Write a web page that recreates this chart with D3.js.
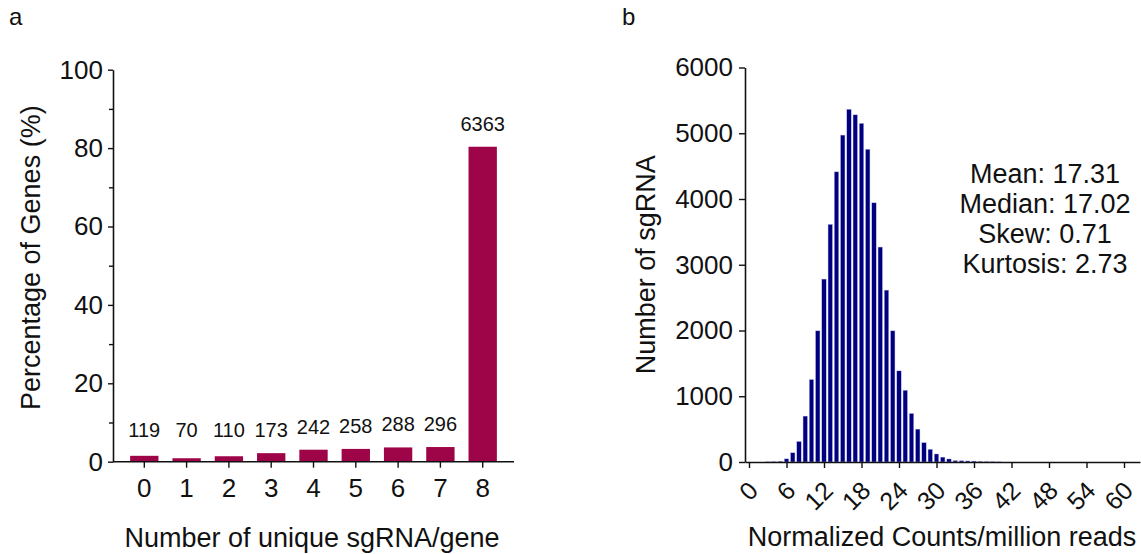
<!DOCTYPE html>
<html>
<head>
<meta charset="utf-8">
<script src="https://cdn.jsdelivr.net/npm/d3@7"></script>
<style>
  html, body { margin: 0; padding: 0; background: #fff; }
  svg { display: block; font-family: "Liberation Sans", Arial, sans-serif; }
</style>
</head>
<body>
<svg id="chart" width="1141" height="554"></svg>
<script>
// ---- Panel a data ----
const geneCategories = ["0", "1", "2", "3", "4", "5", "6", "7", "8"];
const geneCounts = [119, 70, 110, 173, 242, 258, 288, 296, 6363];
const genePercent = [1.50, 0.88, 1.39, 2.18, 3.06, 3.26, 3.64, 3.74, 80.35];
const geneYTicks = [0, 20, 40, 60, 80, 100];
const geneYMinorTicks = [10, 30, 50, 70, 90];

// ---- Panel b data ----
const histBins = [3, 4, 5, 6, 7, 8, 9, 10, 11, 12, 13, 14, 15, 16, 17, 18, 19, 20, 21,
  22, 23, 24, 25, 26, 27, 28, 29, 30, 31, 32, 33, 34, 35, 36, 37, 38, 39, 40];
const histCounts = [3, 5, 12, 48, 140, 312, 698, 1254, 1995, 2782, 3614, 4413, 4972, 5364,
  5280, 5150, 4756, 3942, 3269, 2614, 1995, 1386, 1091, 738, 500, 294, 193, 122, 74, 46,
  22, 20, 16, 14, 10, 6, 4, 2];
const histXTicks = [0, 6, 12, 18, 24, 30, 36, 42, 48, 54, 60];
const histYTicks = [0, 1000, 2000, 3000, 4000, 5000, 6000];
const statsLines = ["Mean: 17.31", "Median: 17.02", "Skew: 0.71", "Kurtosis: 2.73"];

const svg = d3.select("#chart");
const ink = "#111";

function styleAxis(g, fs) {
  g.selectAll("path.domain").attr("stroke", ink).attr("stroke-width", 1.6);
  g.selectAll(".tick line").attr("stroke", ink).attr("stroke-width", 1.4);
  g.selectAll(".tick text").attr("fill", ink).attr("font-size", fs)
    .attr("font-family", "Liberation Sans, Arial, sans-serif");
}

// ================= Panel a =================
const xA = d3.scaleBand().domain(geneCategories).range([113, 514])
  .paddingInner(0.33).paddingOuter(0.405);
const yA = d3.scaleLinear().domain([0, 100]).range([461.7, 69.7]);

svg.append("text").attr("x", 9).attr("y", 25).attr("font-size", 24).attr("fill", ink).text("a");

const gA = svg.append("g");
gA.selectAll("rect.bar").data(genePercent).enter().append("rect")
  .attr("class", "bar")
  .attr("x", (d, i) => xA(geneCategories[i]))
  .attr("width", xA.bandwidth())
  .attr("y", d => yA(d))
  .attr("height", d => yA(0) - yA(d))
  .attr("fill", "#9E0549");

gA.selectAll("text.cnt").data(geneCounts).enter().append("text")
  .attr("class", "cnt")
  .attr("x", (d, i) => xA(geneCategories[i]) + xA.bandwidth() / 2)
  .attr("y", (d, i) => Math.min(yA(genePercent[i]) - 16, yA(0) - 25))
  .attr("text-anchor", "middle").attr("font-size", 20).attr("fill", ink)
  .text(d => d);

// minor ticks
const yAminor = gA.append("g").attr("transform", "translate(113,0)")
  .call(d3.axisLeft(yA).tickValues(geneYMinorTicks).tickSize(4).tickFormat(""));
yAminor.select("path.domain").remove();
styleAxis(yAminor, 26);

const yAxA = gA.append("g").attr("transform", "translate(113,0)")
  .call(d3.axisLeft(yA).tickValues(geneYTicks).tickSize(5).tickSizeOuter(0).tickPadding(5));
styleAxis(yAxA, 26);

const xAxA = gA.append("g").attr("transform", `translate(0,${yA(0)})`)
  .call(d3.axisBottom(xA).tickSize(6).tickSizeOuter(0).tickPadding(11));
styleAxis(xAxA, 26);
xAxA.select("path.domain").attr("d", "M113,0H514");

svg.append("text")
  .attr("transform", `translate(40,${(yA(0) + yA(100)) / 2 - 8}) rotate(-90)`)
  .attr("text-anchor", "middle").attr("font-size", 27).attr("fill", ink)
  .text("Percentage of Genes (%)");
svg.append("text").attr("x", 312).attr("y", 547)
  .attr("text-anchor", "middle").attr("font-size", 27).attr("fill", ink)
  .text("Number of unique sgRNA/gene");

// ================= Panel b =================
const xB = d3.scaleLinear().domain([-0.64, 62.56]).range([745, 1140]);
const yB = d3.scaleLinear().domain([0, 6000]).range([462, 67.5]);

svg.append("text").attr("x", 622).attr("y", 25).attr("font-size", 24).attr("fill", ink).text("b");

const gB = svg.append("g");
const barW = 4.4;
gB.selectAll("rect.hb").data(histCounts).enter().append("rect")
  .attr("class", "hb")
  .attr("x", (d, i) => xB(histBins[i]) - barW / 2)
  .attr("width", barW)
  .attr("y", d => yB(d))
  .attr("height", d => yB(0) - yB(d))
  .attr("fill", "#00007F")
  .attr("stroke", "#b8b8e8").attr("stroke-width", 0.4);

const yAxB = gB.append("g").attr("transform", "translate(745,0)")
  .call(d3.axisLeft(yB).tickValues(histYTicks).tickFormat(d3.format("d"))
    .tickSize(6).tickSizeOuter(0).tickPadding(6));
styleAxis(yAxB, 26);

const xAxB = gB.append("g").attr("transform", `translate(0,${yB(0)})`)
  .call(d3.axisBottom(xB).tickValues(histXTicks).tickSize(6).tickSizeOuter(0));
styleAxis(xAxB, 25);
xAxB.selectAll(".tick text")
  .attr("text-anchor", "end")
  .attr("dy", "0.35em")
  .attr("y", 0)
  .attr("transform", "translate(4,24) rotate(-45)");

svg.append("text")
  .attr("transform", `translate(655,${(yB(0) + yB(6000)) / 2}) rotate(-90)`)
  .attr("text-anchor", "middle").attr("font-size", 27).attr("fill", ink)
  .text("Number of sgRNA");
svg.append("text").attr("x", 942).attr("y", 546)
  .attr("text-anchor", "middle").attr("font-size", 27).attr("fill", ink)
  .text("Normalized Counts/million reads");

svg.append("g").selectAll("text").data(statsLines).enter().append("text")
  .attr("x", 1045).attr("y", (d, i) => 183 + i * 30)
  .attr("text-anchor", "middle").attr("font-size", 27).attr("fill", ink)
  .text(d => d);
</script>
</body>
</html>
